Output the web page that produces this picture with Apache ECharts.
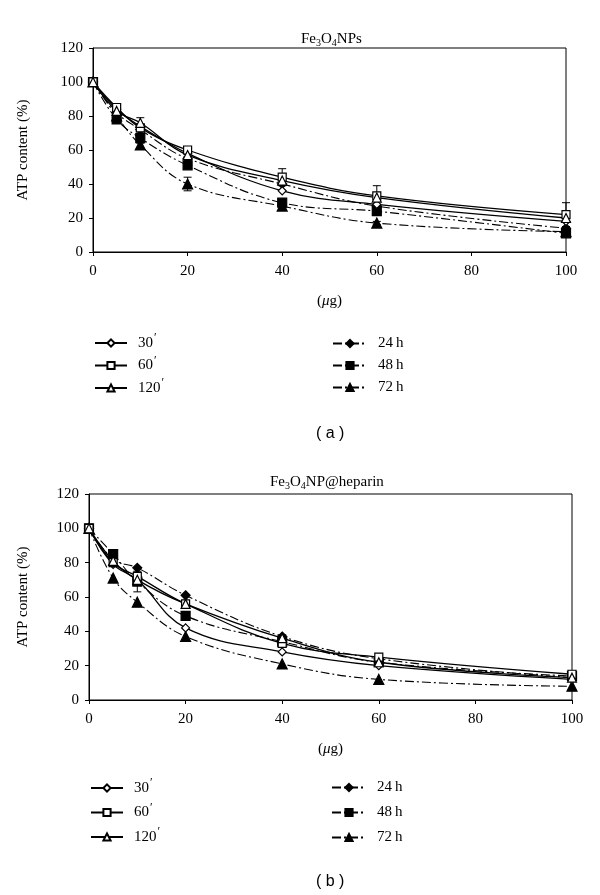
<!DOCTYPE html>
<html>
<head>
<meta charset="utf-8">
<script src="https://cdn.jsdelivr.net/npm/echarts@6/dist/echarts.min.js"></script>
<style>html,body{margin:0;padding:0;background:#fff;}#c{width:600px;height:895px;}</style>
</head>
<body>
<div id="c"></div>
<script>
// ---- data ----
const doses = [0, 5, 10, 20, 40, 60, 100];
const xTicks = [0, 20, 40, 60, 80, 100];
const yTicks = [0, 20, 40, 60, 80, 100, 120];
const seriesNames = ['30', '60', '120', '24\u2009h', '48\u2009h', '72\u2009h'];
// (a) Fe3O4NPs
const a30  = [100, 84, 74, 58, 36, 28, 18];
const a60  = [100, 85, 73, 60, 44, 33, 22];
const a120 = [100, 83, 76, 57, 42, 32, 20];
const a24  = [100, 82, 72, 55, 40, 27, 14];
const a48  = [100, 78, 67, 51, 29, 24, 11];
const a72  = [100, 80, 63, 40, 27, 17, 12];
// error bars (a)
const aErr60 = [0, 2, 6, 2, 5, 6, 7];
const aErr48 = [0, 2, 3, 2, 2, 2, 1];
const aErr72 = [0, 2, 2, 4, 2, 1, 1];
// (b) Fe3O4NP@heparin
const b30  = [100, 79, 70, 42, 28, 20, 12];
const b60  = [100, 80, 72, 56, 33, 25, 15];
const b120 = [100, 81, 70, 56, 36, 22, 13];
const b24  = [100, 82, 77, 61, 37, 24, 13];
const b48  = [100, 85, 69, 49, 34, 22, 14];
const b72  = [100, 71, 57, 37, 21, 12, 8];
// error bars (b)
const bErr48  = [0, 2, 6, 2, 2, 2, 1];
const bErr120 = [0, 3, 3, 2, 2, 1, 1];

const SERIF = '"Liberation Serif", "DejaVu Serif", serif';
const DASHDOT = [9, 3, 2, 3];

const styles = [
  {symbol: 'diamond', size: 8, open: true},
  {symbol: 'rect', size: 8, open: true},
  {symbol: 'triangle', size: 9, open: true},
  {symbol: 'diamond', size: 9, open: false},
  {symbol: 'rect', size: 9, open: false},
  {symbol: 'triangle', size: 10, open: false}
];

function pairs(vals) { return doses.map((d, i) => [d, vals[i]]); }

function lineSeries(gi, idx, vals) {
  const st = styles[idx];
  return {
    type: 'line', name: seriesNames[idx], xAxisIndex: gi, yAxisIndex: gi,
    data: pairs(vals), smooth: 0.4, symbol: st.symbol, symbolSize: st.size,
    showAllSymbol: true,
    lineStyle: {color: '#000', width: st.open ? 1.3 : 1.1, type: st.open ? 'solid' : DASHDOT},
    itemStyle: {color: st.open ? '#fff' : '#000', borderColor: '#000', borderWidth: 1.2},
    emphasis: {disabled: true}, animation: false, z: st.open ? 3 : 2
  };
}

function errSeries(gi, vals, errs) {
  const d = [];
  doses.forEach((x, i) => { if (errs[i] > 0) d.push([x, vals[i] - errs[i], vals[i] + errs[i]]); });
  return {
    type: 'custom', xAxisIndex: gi, yAxisIndex: gi, data: d, animation: false, z: 1,
    renderItem: function (params, api) {
      const x = api.value(0);
      const lo = api.coord([x, api.value(1)]);
      const hi = api.coord([x, api.value(2)]);
      const w = 4;
      return {type: 'group', children: [
        {type: 'line', shape: {x1: lo[0], y1: lo[1], x2: hi[0], y2: hi[1]}, style: {stroke: '#000', lineWidth: 1}},
        {type: 'line', shape: {x1: hi[0] - w, y1: hi[1], x2: hi[0] + w, y2: hi[1]}, style: {stroke: '#000', lineWidth: 1}},
        {type: 'line', shape: {x1: lo[0] - w, y1: lo[1], x2: lo[0] + w, y2: lo[1]}, style: {stroke: '#000', lineWidth: 1}}
      ]};
    }
  };
}

function xAxis(gi, gap) {
  return {
    type: 'value', gridIndex: gi, min: xTicks[0], max: xTicks[xTicks.length - 1], interval: 20,
    name: '({mu|\u03bc}g)', nameLocation: 'middle', nameGap: gap,
    nameTextStyle: {fontFamily: SERIF, fontSize: 15, color: '#000',
      rich: {mu: {fontFamily: SERIF, fontStyle: 'italic', fontSize: 15, color: '#000'}}},
    axisLine: {lineStyle: {color: '#000', width: 1}},
    axisTick: {show: true, inside: false, length: 4, lineStyle: {color: '#000'}},
    axisLabel: {fontFamily: SERIF, fontSize: 15, color: '#000', margin: 12},
    splitLine: {show: false}
  };
}
function yAxis(gi, gap) {
  return {
    type: 'value', gridIndex: gi, min: yTicks[0], max: yTicks[yTicks.length - 1], interval: 20,
    name: 'ATP content (%)', nameLocation: 'middle', nameGap: gap, nameRotate: 90,
    nameTextStyle: {fontFamily: SERIF, fontSize: 15, color: '#000'},
    axisLine: {lineStyle: {color: '#000', width: 1}},
    axisTick: {show: true, inside: false, length: 4, lineStyle: {color: '#000'}},
    axisLabel: {fontFamily: SERIF, fontSize: 15, color: '#000', margin: 10},
    splitLine: {show: false}
  };
}

function legend(left, top, names, itemWidth, gap) {
  return {
    orient: 'vertical', left: left, top: top, data: names, itemWidth: itemWidth, itemHeight: 9,
    itemGap: gap, selectedMode: false,
    textStyle: {fontFamily: SERIF, fontSize: 15, color: '#000', padding: [0, 0, 0, 6],
      rich: {n: {fontFamily: SERIF, fontSize: 15, color: '#000'},
             p: {fontFamily: SERIF, fontSize: 12, color: '#000', padding: [0, 0, 10, 1]}}},
    formatter: function (name) {
      if (name.indexOf('h') >= 0) return name;
      return '{n|' + name + '}{p|\u2032}';
    }
  };
}

function titleText(x, y, tail) {
  return {
    type: 'text', left: x, top: y,
    style: {
      text: 'Fe{s|3}O{s|4}' + tail, fill: '#000', font: '15px ' + SERIF,
      rich: {s: {fontFamily: SERIF, fontSize: 10, fill: '#000', padding: [7, 0, 0, 0]}}
    }
  };
}

const series = [];
[a30, a60, a120, a24, a48, a72].forEach((v, i) => series.push(lineSeries(0, i, v)));
[b30, b60, b120, b24, b48, b72].forEach((v, i) => series.push(lineSeries(1, i, v)));
series.push(errSeries(0, a60, aErr60), errSeries(0, a48, aErr48), errSeries(0, a72, aErr72));
series.push(errSeries(1, b48, bErr48), errSeries(1, b120, bErr120));

const option = {
  backgroundColor: '#fff',
  animation: false,
  grid: [
    {left: 93, top: 48, width: 473, height: 204, show: true, borderColor: '#000', borderWidth: 1, backgroundColor: 'transparent'},
    {left: 89, top: 494, width: 483, height: 206, show: true, borderColor: '#000', borderWidth: 1, backgroundColor: 'transparent'}
  ],
  xAxis: [xAxis(0, 42), xAxis(1, 42)],
  yAxis: [yAxis(0, 62), yAxis(1, 58)],
  legend: [
    legend(89, 327, seriesNames.slice(0, 3), 32, 4),
    legend(327, 331, seriesNames.slice(3), 34, 7),
    legend(85, 772, seriesNames.slice(0, 3), 32, 6),
    legend(326, 775, seriesNames.slice(3), 34, 10)
  ],
  graphic: [
    titleText(301, 32, 'NPs'),
    titleText(270, 475, 'NP@heparin'),
    {type: 'text', left: 316, top: 426, style: {text: '( a )', fill: '#000', font: '16px "Liberation Sans", Arial, sans-serif'}},
    {type: 'text', left: 316, top: 874, style: {text: '( b )', fill: '#000', font: '16px "Liberation Sans", Arial, sans-serif'}}
  ],
  series: series
};

const chart = echarts.init(document.getElementById('c'), null, {renderer: 'canvas'});
chart.setOption(option);
</script>
</body>
</html>
